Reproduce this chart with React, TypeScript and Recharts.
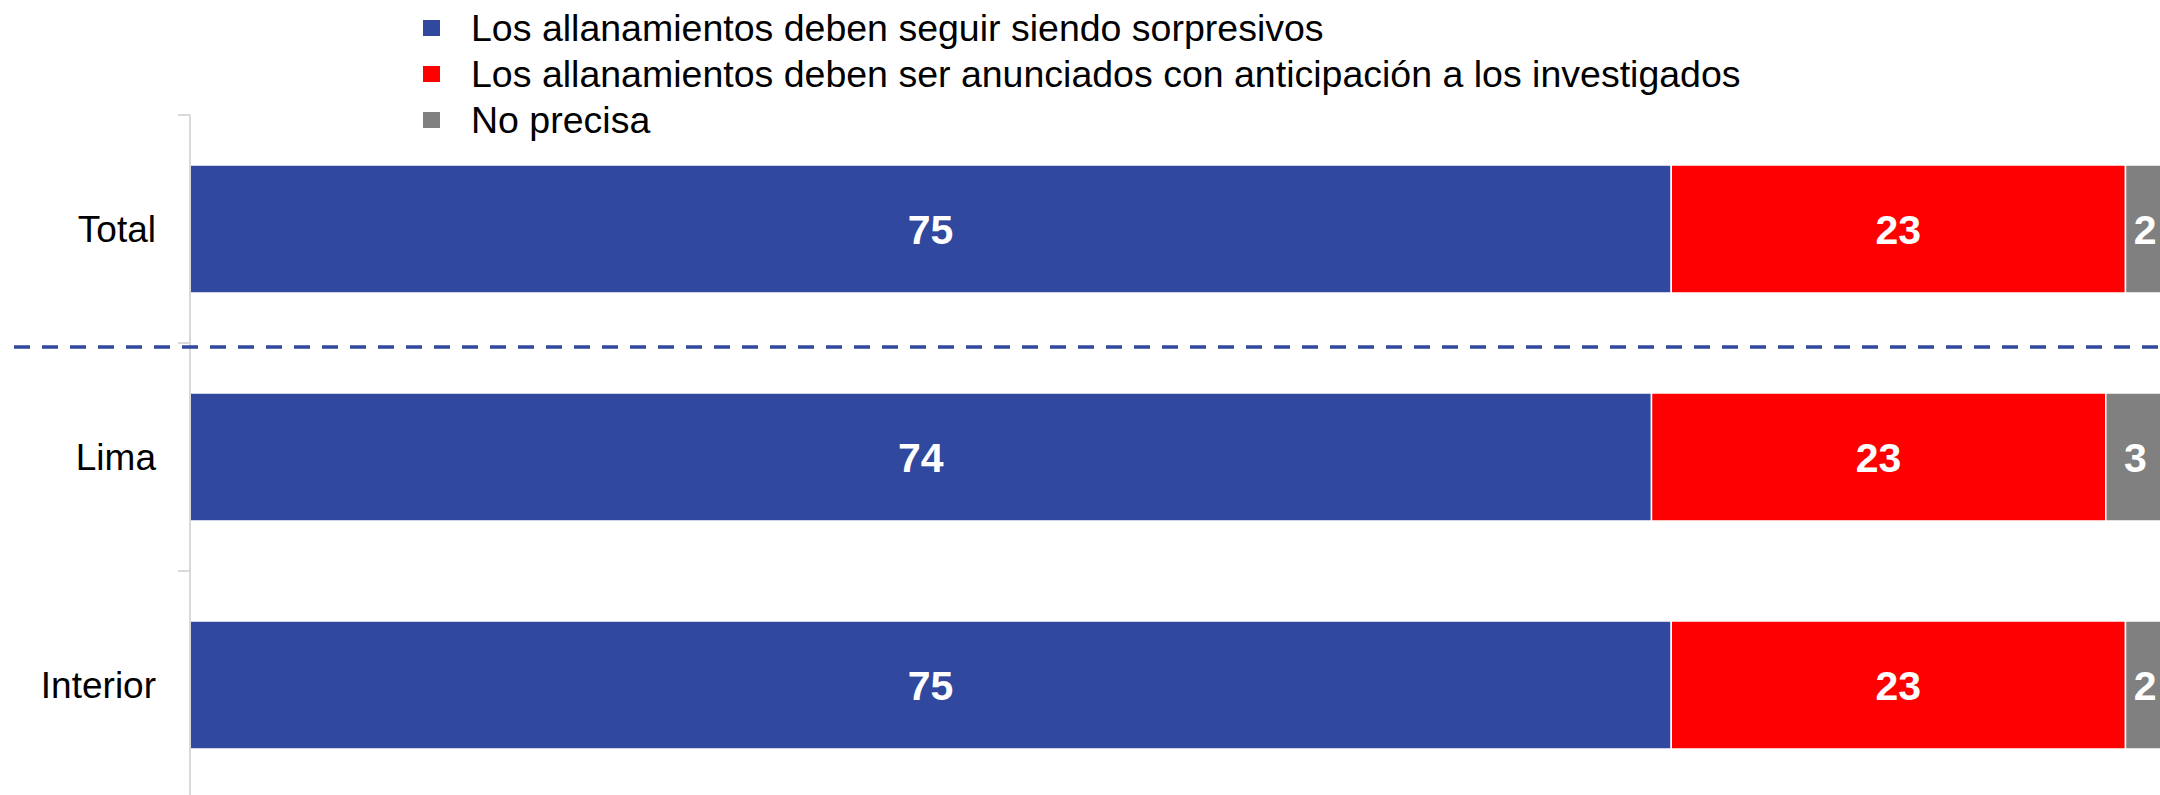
import { BarChart, Bar, XAxis, YAxis, Legend, LabelList } from 'recharts';

const categories = ['Total', 'Lima', 'Interior'];
const sorpresivos = [75, 74, 75];
const anunciados = [23, 23, 23];
const noPrecisa = [2, 3, 2];

const seriesNames = [
  'Los allanamientos deben seguir siendo sorpresivos',
  'Los allanamientos deben ser anunciados con anticipación a los investigados',
  'No precisa',
];

const BLUE = '#30489D';
const RED = '#FF0000';
const GRAY = '#808080';
const FONT = '"Liberation Sans", Arial, sans-serif';

const CHART_W = 2170;
const CHART_H = 800;
const MARGIN = { top: 0, right: 5, bottom: 1, left: 0 };
const LEGEND_H = 115;
const AXIS_W = 190;
const BAND = (CHART_H - MARGIN.top - MARGIN.bottom - LEGEND_H) / categories.length;

const data = categories.map((name, i) => ({
  name,
  sorpresivos: sorpresivos[i],
  anunciados: anunciados[i],
  noPrecisa: noPrecisa[i],
}));

const colors = [BLUE, RED, GRAY];

function LegendContent() {
  return (
    <div style={{ height: LEGEND_H, paddingTop: 5, boxSizing: 'border-box', fontFamily: FONT }}>
      {seriesNames.map((label, i) => (
        <div
          key={label}
          style={{ display: 'flex', alignItems: 'center', height: 46, paddingLeft: 423 }}
        >
          <span style={{ width: 17, height: 16, background: colors[i], display: 'inline-block' }} />
          <span style={{ marginLeft: 31, fontSize: 37.5, color: '#000', lineHeight: '46px' }}>{label}</span>
        </div>
      ))}
    </div>
  );
}

// category label plus the boundary tick marks, and the dashed separator under "Total"
function CategoryTick(props: any) {
  const { y, payload, index } = props;
  const axisX = AXIS_W;
  return (
    <g>
      <line x1={axisX - 12} x2={axisX} y1={y - BAND / 2} y2={y - BAND / 2} stroke="#D9D9D9" strokeWidth={2} />
      {index === 0 && (
        <line
          x1={14}
          x2={CHART_W}
          y1={y + BAND / 2 + 4}
          y2={y + BAND / 2 + 4}
          stroke={BLUE}
          strokeWidth={3.5}
          strokeDasharray="16 12"
        />
      )}
      <text
        x={axisX - 34}
        y={y + 13}
        textAnchor="end"
        fill="#000"
        fontSize={37}
        fontFamily={FONT}
      >
        {payload.value}
      </text>
    </g>
  );
}

export default function App() {
  return (
    <div style={{ position: 'absolute', left: 0, top: 0, width: 2160, height: 795, overflow: 'hidden', background: '#fff' }}>
      <BarChart width={CHART_W} height={CHART_H} data={data} layout="vertical" margin={MARGIN}>
        <XAxis type="number" domain={[0, 100]} hide />
        <YAxis
          type="category"
          dataKey="name"
          width={AXIS_W}
          axisLine={{ stroke: '#D9D9D9', strokeWidth: 2 }}
          tickLine={false}
          tick={<CategoryTick />}
          interval={0}
        />
        <Legend verticalAlign="top" align="left" content={() => <LegendContent />} />
        <Bar dataKey="sorpresivos" stackId="a" fill={BLUE} stroke="#fff" strokeWidth={1.5} barSize={128} isAnimationActive={false}>
          <LabelList dataKey="sorpresivos" position="center" fill="#fff" fontSize={41} fontWeight="bold" fontFamily={FONT} />
        </Bar>
        <Bar dataKey="anunciados" stackId="a" fill={RED} stroke="#fff" strokeWidth={1.5} barSize={128} isAnimationActive={false}>
          <LabelList dataKey="anunciados" position="center" fill="#fff" fontSize={41} fontWeight="bold" fontFamily={FONT} />
        </Bar>
        <Bar dataKey="noPrecisa" stackId="a" fill={GRAY} stroke="#fff" strokeWidth={1.5} barSize={128} isAnimationActive={false}>
          <LabelList dataKey="noPrecisa" position="center" fill="#fff" fontSize={41} fontWeight="bold" fontFamily={FONT} />
        </Bar>
      </BarChart>
    </div>
  );
}
